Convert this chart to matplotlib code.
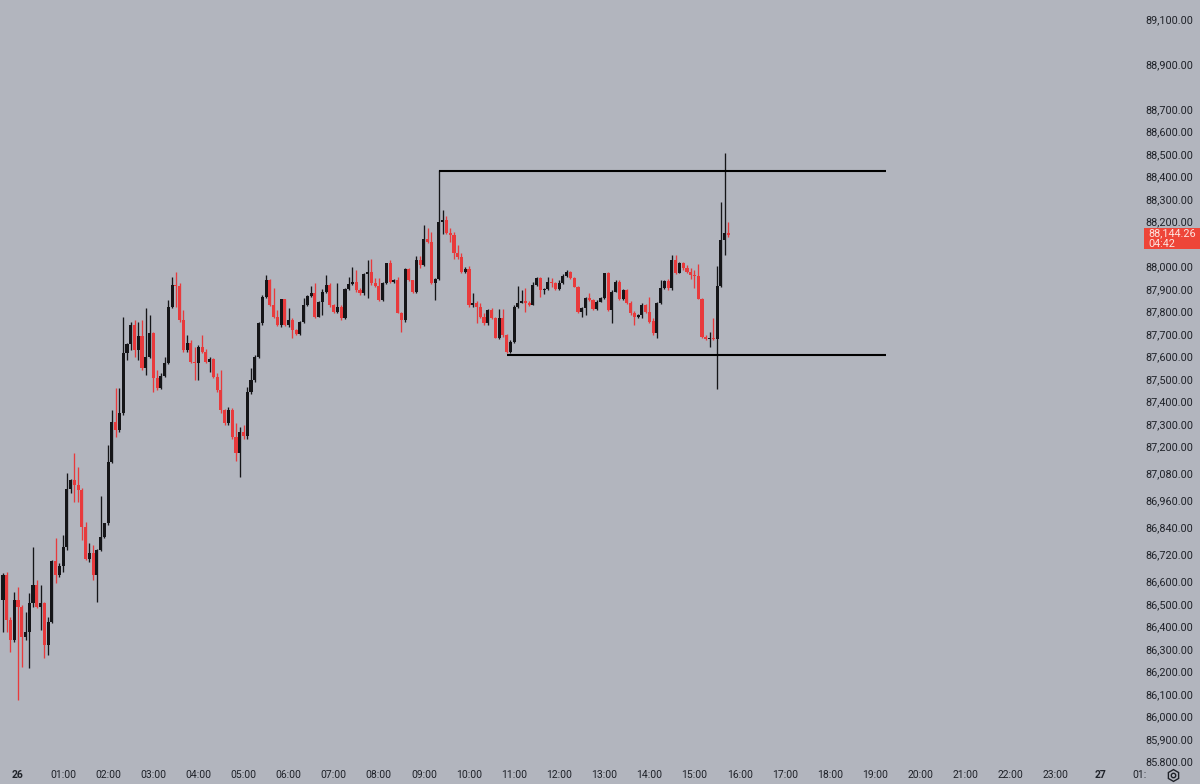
import matplotlib.pyplot as plt
from matplotlib.patches import Rectangle
from matplotlib.lines import Line2D
import numpy as np

# 5-minute candles, first one at 23:40 on the 25th (hours counted from 00:00 on the 26th)
opens = [86522, 86633, 86433, 86344, 86522, 86492, 86359, 86381, 86510, 86589,
         86492, 86507, 86322, 86426, 86697, 86633, 86673, 86756, 87014, 87055,
         87033, 87011, 86848, 86703, 86730, 86633, 86744, 86800, 86863, 87137,
         87314, 87277, 87352, 87618, 87660, 87744, 87633, 87695, 87552, 87603,
         87707, 87507, 87463, 87518, 87577, 87826, 87922, 87916, 87766, 87633,
         87666, 87581, 87574, 87648, 87626, 87581, 87592, 87515, 87455, 87366,
         87307, 87366, 87248, 87174, 87270, 87250, 87448, 87500, 87603, 87752,
         87870, 87944, 87833, 87781, 87744, 87858, 87744, 87766, 87722, 87704,
         87759, 87833, 87873, 87885, 87781, 87848, 87892, 87922, 87833, 87803,
         87826, 87774, 87903, 87926, 87937, 87900, 87885, 87971, 87981, 87929,
         87920, 87855, 87929, 88018, 87937, 87944, 87796, 87766, 87992, 87944,
         87892, 88033, 88011, 88125, 88115, 87930, 87948, 88204, 88210, 88152,
         88145, 88066, 88048, 87982, 87992, 87834, 87844, 87826, 87782, 87752,
         87811, 87774, 87685, 87774, 87700, 87626, 87671, 87826, 87844, 87853,
         87841, 87835, 87922, 87952, 87900, 87905, 87937, 87930, 87903, 87930,
         87962, 87982, 87952, 87915, 87804, 87819, 87863, 87856, 87814, 87848,
         87863, 87974, 87811, 87893, 87937, 87859, 87900, 87841, 87797, 87778,
         87789, 87834, 87804, 87760, 87708, 87841, 87907, 87942, 87907, 88033,
         87977, 88019, 87997, 87982, 87967, 87962, 87859, 87693, 87681, 87688,
         87684, 87918, 88123, 88152]
highs = [86640, 86648, 86448, 86559, 86581, 86500, 86470, 86552, 86759, 86611,
         86589, 86514, 86448, 86700, 86796, 86685, 86811, 87085, 87058, 87174,
         87115, 87018, 86870, 86774, 86767, 86750, 86984, 86866, 87211, 87366,
         87463, 87463, 87781, 87663, 87760, 87767, 87759, 87767, 87818, 87789,
         87715, 87544, 87529, 87603, 87855, 87959, 87981, 87929, 87811, 87700,
         87680, 87648, 87655, 87700, 87640, 87603, 87600, 87529, 87544, 87370,
         87381, 87374, 87307, 87292, 87300, 87470, 87552, 87610, 87760, 87877,
         87966, 87950, 87907, 87811, 87860, 87862, 87818, 87774, 87725, 87762,
         87863, 87876, 87918, 87929, 87850, 87903, 87966, 87929, 87840, 87932,
         87833, 87907, 87959, 88003, 87989, 87907, 87974, 88033, 88040, 87952,
         87952, 87937, 88020, 88033, 87950, 87959, 87803, 87996, 87996, 87946,
         88050, 88050, 88189, 88174, 88159, 87952, 88434, 88256, 88229, 88174,
         88159, 88100, 88066, 88004, 88007, 87885, 87849, 87841, 87797, 87815,
         87819, 87782, 87815, 87815, 87705, 87678, 87834, 87918, 87900, 87907,
         87850, 87937, 87959, 87957, 87908, 87957, 87952, 87937, 87944, 87971,
         87989, 87986, 87960, 87918, 87826, 87871, 87888, 87860, 87856, 87871,
         87977, 87980, 87900, 87944, 87944, 87905, 87905, 87850, 87805, 87795,
         87841, 87840, 87871, 87775, 87848, 87944, 87944, 87950, 88056, 88056,
         88026, 88026, 88011, 88000, 87989, 88016, 87863, 87700, 87715, 87774,
         88007, 88293, 88511, 88204]
lows = [86380, 86381, 86292, 86337, 86078, 86226, 86344, 86218, 86492, 86485,
        86389, 86263, 86278, 86421, 86596, 86626, 86648, 86744, 86996, 86959,
        86959, 86789, 86700, 86692, 86611, 86512, 86740, 86796, 86855, 87130,
        87248, 87270, 87345, 87589, 87633, 87603, 87589, 87544, 87522, 87596,
        87448, 87455, 87458, 87515, 87570, 87820, 87826, 87760, 87626, 87626,
        87574, 87500, 87500, 87620, 87574, 87537, 87507, 87448, 87352, 87300,
        87300, 87240, 87140, 87069, 87240, 87240, 87440, 87490, 87600, 87745,
        87865, 87830, 87774, 87740, 87737, 87740, 87737, 87685, 87700, 87700,
        87752, 87830, 87870, 87774, 87778, 87789, 87885, 87826, 87796, 87796,
        87766, 87769, 87900, 87922, 87892, 87877, 87877, 87863, 87922, 87915,
        87850, 87850, 87925, 87930, 87930, 87796, 87715, 87760, 87940, 87885,
        87885, 88000, 88007, 88108, 87927, 87856, 87945, 88150, 88150, 88115,
        88037, 88037, 87974, 87974, 87826, 87826, 87752, 87774, 87745, 87745,
        87770, 87685, 87681, 87693, 87619, 87622, 87666, 87822, 87841, 87804,
        87830, 87834, 87918, 87871, 87881, 87900, 87915, 87900, 87900, 87927,
        87958, 87948, 87912, 87800, 87782, 87789, 87853, 87811, 87811, 87845,
        87859, 87805, 87752, 87890, 87855, 87855, 87836, 87790, 87745, 87774,
        87774, 87800, 87752, 87700, 87685, 87838, 87905, 87900, 87900, 87970,
        87974, 87989, 87974, 87948, 87908, 87859, 87686, 87678, 87646, 87678,
        87459, 87915, 88056, 88137]
closes = [86633, 86433, 86344, 86522, 86492, 86359, 86381, 86510, 86589, 86492,
          86507, 86322, 86426, 86697, 86633, 86673, 86756, 87014, 87055, 87033,
          87011, 86848, 86703, 86730, 86633, 86744, 86800, 86863, 87137, 87314,
          87277, 87352, 87618, 87660, 87744, 87633, 87695, 87552, 87603, 87707,
          87507, 87463, 87518, 87577, 87826, 87922, 87916, 87766, 87633, 87666,
          87581, 87574, 87648, 87626, 87581, 87592, 87515, 87455, 87366, 87307,
          87366, 87248, 87174, 87270, 87250, 87448, 87500, 87603, 87752, 87870,
          87944, 87833, 87781, 87744, 87858, 87744, 87766, 87722, 87704, 87759,
          87833, 87873, 87885, 87781, 87848, 87892, 87922, 87833, 87803, 87826,
          87774, 87903, 87926, 87937, 87900, 87885, 87971, 87981, 87929, 87920,
          87855, 87929, 88018, 87937, 87944, 87796, 87766, 87992, 87944, 87892,
          88033, 88011, 88125, 88115, 87930, 87948, 88204, 88210, 88152, 88145,
          88066, 88048, 87982, 87992, 87834, 87844, 87826, 87782, 87752, 87811,
          87774, 87685, 87774, 87700, 87626, 87671, 87826, 87844, 87853, 87841,
          87835, 87922, 87952, 87900, 87905, 87937, 87930, 87903, 87930, 87962,
          87982, 87952, 87915, 87804, 87819, 87863, 87856, 87814, 87848, 87863,
          87974, 87811, 87893, 87937, 87859, 87900, 87841, 87797, 87778, 87789,
          87834, 87804, 87760, 87708, 87841, 87907, 87942, 87907, 88033, 87977,
          88019, 87997, 87982, 87967, 87962, 87859, 87693, 87681, 87688, 87684,
          87918, 88123, 88152, 88144.26]

first_candle = -20 / 60
candle_step = 5 / 60

resistance = 88430
support = 87610
resistance_start = 9 + 20 / 60
support_start = 10 + 50 / 60
levels_end = 19 + 15 / 60

price_ticks = [89100, 88900, 88700, 88600, 88500, 88400, 88300, 88200, 88000,
               87900, 87800, 87700, 87600, 87500, 87400, 87300, 87200, 87080,
               86960, 86840, 86720, 86600, 86500, 86400, 86300, 86200, 86100,
               86000, 85900, 85800]
time_ticks = list(range(26))
time_labels = ['26', '01:00', '02:00', '03:00', '04:00', '05:00', '06:00', '07:00',
               '08:00', '09:00', '10:00', '11:00', '12:00', '13:00', '14:00', '15:00',
               '16:00', '17:00', '18:00', '19:00', '20:00', '21:00', '22:00', '23:00',
               '27', '01:00']
countdown = '04:42'

bg = '#b2b5be'
up_col = '#151518'
down_col = '#e83a3c'
text_col = '#1f2229'
W, H = 1200, 784

plt.rcParams['font.family'] = ['Roboto', 'DejaVu Sans']

fig = plt.figure(figsize=(W / 100, H / 100), dpi=100, facecolor=bg)
ax = fig.add_axes([0, 18 / H, 1, 766 / H])
ax.set_facecolor(bg)

# pixel scale of the screenshot: 45.1 px per hour, 22.5 px per 100
x0 = -18 / 45.1
x1 = (W - 18) / 45.1
ax.set_xlim(x0, x1)
ax.set_ylim(89100 - 746 / 0.225, 89100 + 20 / 0.225)
for s in ax.spines.values():
    s.set_visible(False)
ax.set_xticks([])
ax.set_yticks([])

o = np.array(opens, dtype=float)
h = np.array(highs, dtype=float)
l = np.array(lows, dtype=float)
c = np.array(closes, dtype=float)
t = first_candle + np.arange(len(c)) * candle_step
cols = np.where(c >= o, up_col, down_col)

ax.vlines(t, l, h, colors=cols, lw=0.95, zorder=2)
body = np.maximum(np.abs(c - o), 4)
ax.bar(t, body, bottom=np.minimum(o, c), width=0.068, color=cols,
       linewidth=0, zorder=3)

ax.hlines(resistance, resistance_start, levels_end, color='black', lw=1.5, zorder=4)
ax.hlines(support, support_start, levels_end, color='black', lw=1.5, zorder=4)

# price scale labels
ytr = ax.get_yaxis_transform()
for p in price_ticks:
    ax.text(1193 / W, p, f'{p:,.2f}', transform=ytr, ha='right', va='center',
            fontsize=7.8, color=text_col, clip_on=True)

# last price tag
last = closes[-1]
ax.add_patch(Rectangle((1144 / W, last - 62), 56 / W, 93, transform=ytr,
                       facecolor='#ee4538', edgecolor='none', zorder=6))
ax.text(1148 / W, last + 9, f'{last:,.2f}', transform=ytr, ha='left',
        va='center', fontsize=7.8, color='#fde3df', zorder=7)
ax.text(1148 / W, last - 40, countdown, transform=ytr, ha='left',
        va='center', fontsize=7.8, color='#fde3df', zorder=7)

# time scale strip (cut where the price scale begins)
ax_t = fig.add_axes([0, 0, 1146 / W, 18 / H])
ax_t.set_facecolor(bg)
ax_t.set_xlim(x0, (1146 - 18) / 45.1)
ax_t.set_ylim(0, 1)
ax_t.axis('off')
for tk, lab in zip(time_ticks, time_labels):
    bold = lab in ('26', '27')
    ax_t.text(tk, 0.5, lab, ha='center', va='center', fontsize=7.5,
              color=text_col, fontweight='bold' if bold else 'normal',
              clip_on=True)

# settings icon at the corner
fig.add_artist(Line2D([1173 / W], [9 / H], marker='h', markersize=8.5,
                      mfc='none', mec=text_col, mew=1.0, transform=fig.transFigure))
fig.add_artist(Line2D([1173 / W], [9 / H], marker='o', markersize=3.2,
                      mfc='none', mec=text_col, mew=1.0, transform=fig.transFigure))

fig.savefig('out.png', dpi=100, facecolor=bg)
